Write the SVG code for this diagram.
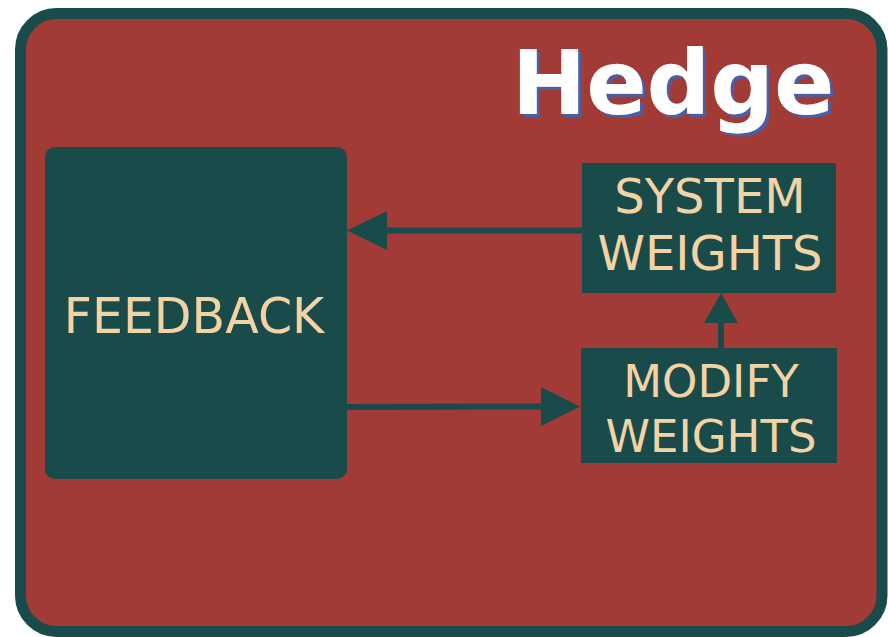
<svg xmlns="http://www.w3.org/2000/svg" width="888" height="637" viewBox="0 0 888 637">
<defs>
<filter id="shadow" x="-5%" y="-5%" width="115%" height="120%">
<feFlood flood-color="#4a5fa8" result="c"/>
<feComposite in="c" in2="SourceAlpha" operator="in" result="s"/>
<feOffset in="s" dx="3" dy="3" result="o"/>
<feMerge><feMergeNode in="o"/><feMergeNode in="SourceGraphic"/></feMerge>
</filter>
</defs>
<style>
.box{fill:#194b4b}
.lbl{fill:#f3d3a3;font-family:"DejaVu Sans",Verdana,sans-serif;text-anchor:middle}
.ln{stroke:#194b4b;stroke-width:6;fill:none}
.hd{fill:#194b4b}
</style>
<rect x="0" y="0" width="888" height="637" fill="#ffffff"/>
<rect x="20.5" y="13.5" width="861.5" height="618" rx="36" fill="#a23a35" stroke="#194b4b" stroke-width="11"/>
<g id="title">
<text x="673" y="114" font-family="'DejaVu Sans',Verdana,sans-serif" font-weight="bold" font-size="89" text-anchor="middle" fill="#ffffff" filter="url(#shadow)">Hedge</text>
</g>
<g id="feedback">
<rect class="box" x="45" y="147" width="302" height="332" rx="10"/>
<text class="lbl" x="194" y="333" font-size="49">FEEDBACK</text>
</g>
<g id="system-weights">
<rect class="box" x="582" y="163" width="254" height="130"/>
<text class="lbl" x="710" y="213" font-size="48">SYSTEM</text>
<text class="lbl" x="710" y="270" font-size="48">WEIGHTS</text>
</g>
<g id="modify-weights">
<rect class="box" x="581" y="348" width="256" height="115"/>
<text class="lbl" x="711" y="397" font-size="45">MODIFY</text>
<text class="lbl" x="711" y="452" font-size="45">WEIGHTS</text>
</g>
<g id="connectors">
<line class="ln" x1="582" y1="230.5" x2="385" y2="230.5"/>
<polygon class="hd" points="347,230.5 387,211 387,250"/>
<line class="ln" x1="347" y1="407" x2="543" y2="406.5"/>
<polygon class="hd" points="580,406.5 541,387 541,426"/>
<line class="ln" x1="721" y1="348" x2="721" y2="321"/>
<polygon class="hd" points="721,293 704,323 738,323"/>
</g>
</svg>
